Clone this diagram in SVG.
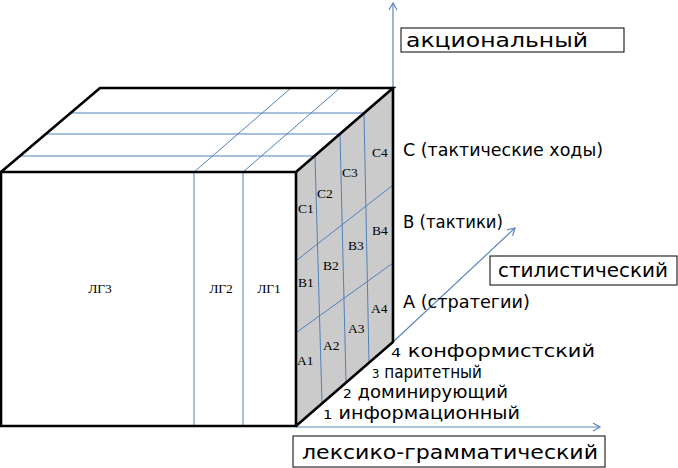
<svg xmlns="http://www.w3.org/2000/svg" width="678" height="468" viewBox="0 0 678 468">
<style>
.edge{fill:none;stroke:#000;stroke-width:2.6;stroke-linejoin:miter}
.grid{fill:none;stroke:#4f81bd;stroke-width:1}
.axis{fill:none;stroke:#5b85c0;stroke-width:1.2}
.cell{font-family:"Liberation Serif",serif;font-size:13.5px;fill:#000}
.lbl{font-family:"DejaVu Sans","Noto Sans",sans-serif;font-size:18px;fill:#000}
.big{font-size:20px}
.typ{font-size:17px}
.sm{font-size:13px}
.box{fill:#fff;stroke:#000;stroke-width:1}
</style>
<defs>
<marker id="arr" markerWidth="10" markerHeight="10" refX="8" refY="5" orient="auto" markerUnits="userSpaceOnUse">
<path d="M1,1 L8,5 L1,9" fill="none" stroke="#5b85c0" stroke-width="1.2"/>
</marker>
</defs>

<g id="cube-top">
<polygon points="1,172 296,172 393,88 100,88" fill="#fff"/>
<line class="grid" x1="69" y1="113" x2="364" y2="113"/>
<line class="grid" x1="45" y1="134" x2="340" y2="134"/>
<line class="grid" x1="19" y1="156" x2="315" y2="156"/>
<line class="grid" x1="194" y1="172" x2="291" y2="88"/>
<line class="grid" x1="243" y1="172" x2="340" y2="88"/>
</g>

<g id="cube-right">
<polygon points="296,172 393,88 393,342 296,426" fill="#cbcbcb"/>
<line class="grid" x1="315" y1="156" x2="322" y2="404"/>
<line class="grid" x1="340" y1="134" x2="346" y2="383"/>
<line class="grid" x1="364" y1="113" x2="369" y2="363"/>
<line class="grid" x1="297" y1="260" x2="393" y2="185"/>
<line class="grid" x1="297" y1="332" x2="393" y2="263"/>
<text class="cell" x="372" y="157">C4</text>
<text class="cell" x="342" y="177">C3</text>
<text class="cell" x="317" y="198">C2</text>
<text class="cell" x="298" y="213">C1</text>
<text class="cell" x="372" y="235">B4</text>
<text class="cell" x="348" y="250">B3</text>
<text class="cell" x="323" y="270">B2</text>
<text class="cell" x="298" y="287">B1</text>
<text class="cell" x="371" y="313">A4</text>
<text class="cell" x="348" y="333">A3</text>
<text class="cell" x="323" y="350">A2</text>
<text class="cell" x="297" y="365">A1</text>
</g>

<g id="cube-front">
<rect x="1" y="172" width="295" height="254" fill="#fff"/>
<line class="grid" x1="194" y1="172" x2="194" y2="426"/>
<line class="grid" x1="243" y1="172" x2="243" y2="426"/>
<text class="cell" x="100" y="293" text-anchor="middle">ЛГ3</text>
<text class="cell" x="221" y="293" text-anchor="middle">ЛГ2</text>
<text class="cell" x="269" y="293" text-anchor="middle">ЛГ1</text>
</g>

<g id="connectors">
<line class="axis" x1="393" y1="88" x2="393" y2="3" marker-end="url(#arr)"/>
<line class="axis" x1="393" y1="342" x2="515" y2="228" marker-end="url(#arr)"/>
<line class="axis" x1="296" y1="427" x2="600" y2="427" marker-end="url(#arr)"/>
</g>

<g id="cube-edges">
<polygon class="edge" points="1,172 296,172 296,426 1,426"/>
<polyline class="edge" points="1,172 100,88 393,88 296,172"/>
<polyline class="edge" points="393,88 393,342 296,426"/>
</g>

<g id="label-akc">
<rect class="box" x="401" y="28" width="223" height="24"/>
<text class="lbl big" x="406" y="47" textLength="182" lengthAdjust="spacingAndGlyphs">акциональный</text>
</g>

<g id="label-stil">
<rect class="box" x="490" y="256" width="187" height="29"/>
<text class="lbl big" x="498" y="277" textLength="170" lengthAdjust="spacingAndGlyphs">стилистический</text>
</g>

<g id="label-lex">
<rect class="box" x="293" y="436" width="312" height="31"/>
<text class="lbl big" x="302" y="459" textLength="296" lengthAdjust="spacingAndGlyphs">лексико-грамматический</text>
</g>

<g id="levels">
<text class="lbl" x="403" y="156" textLength="200" lengthAdjust="spacingAndGlyphs">C (тактические ходы)</text>
<text class="lbl" x="403" y="228" textLength="100" lengthAdjust="spacingAndGlyphs">B (тактики)</text>
<text class="lbl" x="403" y="308" textLength="127" lengthAdjust="spacingAndGlyphs">A (стратегии)</text>
</g>

<g id="types">
<text class="lbl typ" x="391" y="357" textLength="204" lengthAdjust="spacingAndGlyphs"><tspan class="sm">4</tspan> конформистский</text>
<text class="lbl typ" x="372" y="378" textLength="110" lengthAdjust="spacingAndGlyphs"><tspan class="sm">3</tspan> паритетный</text>
<text class="lbl typ" x="343" y="398" textLength="165" lengthAdjust="spacingAndGlyphs"><tspan class="sm">2</tspan> доминирующий</text>
<text class="lbl typ" x="323" y="419" textLength="197" lengthAdjust="spacingAndGlyphs"><tspan class="sm">1</tspan> информационный</text>
</g>
</svg>
